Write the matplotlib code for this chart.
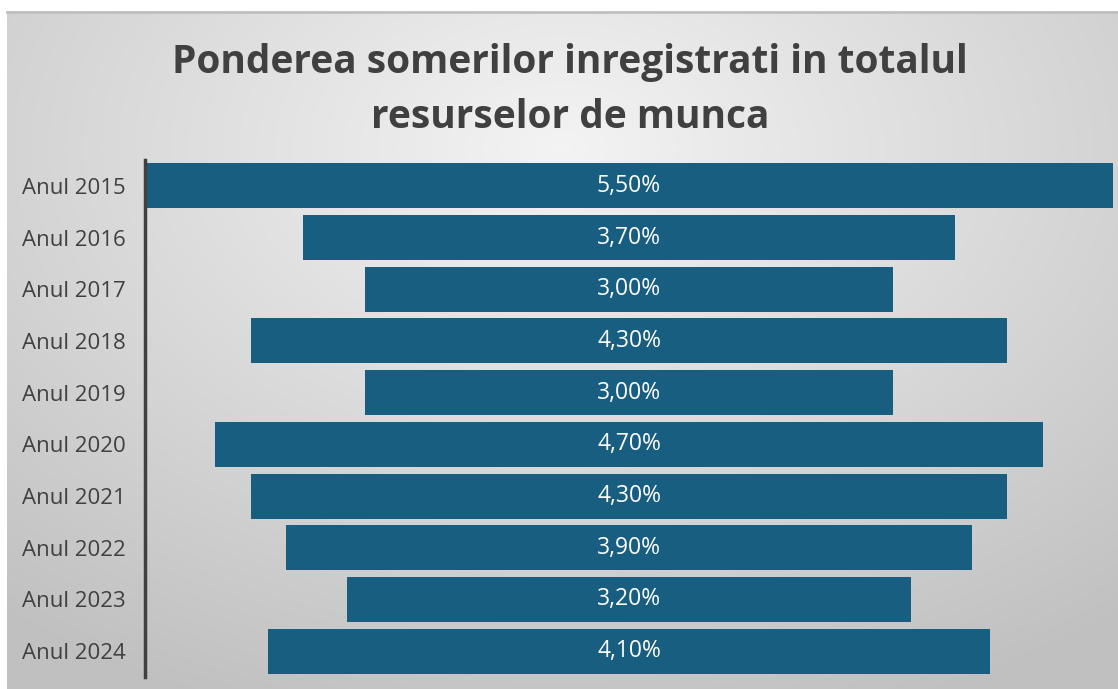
import numpy as np
import matplotlib.pyplot as plt

# Datele graficului
years = ["Anul 2015", "Anul 2016", "Anul 2017", "Anul 2018", "Anul 2019",
         "Anul 2020", "Anul 2021", "Anul 2022", "Anul 2023", "Anul 2024"]
values = [5.5, 3.7, 3.0, 4.3, 3.0, 4.7, 4.3, 3.9, 3.2, 4.1]
value_labels = ["5,50%", "3,70%", "3,00%", "4,30%", "3,00%",
                "4,70%", "4,30%", "3,90%", "3,20%", "4,10%"]
title_lines = ["Ponderea somerilor inregistrati in totalul", "resurselor de munca"]

W, H = 1118, 689
fig = plt.figure(figsize=(W / 100, H / 100), dpi=100)
fig.patch.set_facecolor("white")

# fundal cu gradient radial
bg = fig.add_axes([7 / W, 0, (W - 7) / W, (H - 12) / H])
bg.set_axis_off()
xx, yy = np.meshgrid(np.linspace(-1, 1, 400), np.linspace(-1, 1, 250))
r = np.sqrt(xx ** 2 + ((yy + 0.6) * 0.9) ** 2) / 1.6
r = np.clip(r, 0, 1)
shade = 0.955 - 0.2 * r
bg.imshow(np.dstack([shade] * 3), aspect="auto", extent=[0, 1, 0, 1], origin="upper")
bg.set_xlim(0, 1)
bg.set_ylim(0, 1)
bg.plot([0, 1], [1, 1], color="#bfbfbf", lw=2, transform=bg.transAxes, clip_on=False)

ax = fig.add_axes([145 / W, (H - 677) / H, (1113 - 145) / W, (677 - 160) / H])
ax.patch.set_alpha(0)

y = np.arange(len(years))
lefts = [-v / 2 for v in values]
ax.barh(y, values, left=lefts, height=0.87, color="#175e80")
for yi, lab in zip(y, value_labels):
    ax.text(0, yi, lab, ha="center", va="center", color="white", fontsize=16.5,
            family="Open Sans")

ax.set_xlim(-2.75, 2.75)
ax.set_ylim(len(years) - 0.5, -0.5)
ax.set_yticks(y)
ax.set_yticklabels(years, fontsize=16, color="#404040", family="Open Sans")
ax.tick_params(axis="y", length=0, pad=14)
ax.set_xticks([])
for s in ["top", "right", "bottom"]:
    ax.spines[s].set_visible(False)
ax.spines["left"].set_color("#404040")
ax.spines["left"].set_linewidth(2.5)

for line, base in zip(title_lines, [73, 128]):
    fig.text(570 / W, 1 - base / H, line, ha="center", va="baseline",
             fontsize=28, fontweight="bold", color="#404040", family="Open Sans")

fig.savefig("out.png", dpi=100)
